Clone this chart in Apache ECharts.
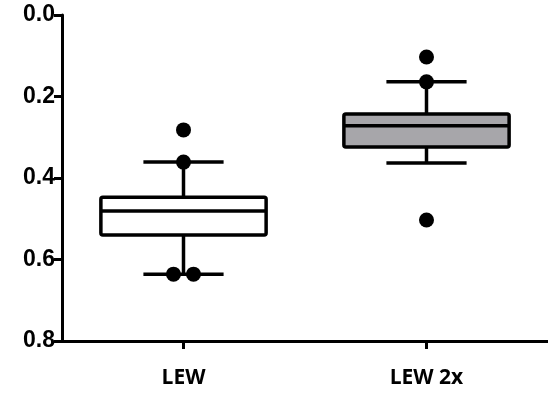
<!DOCTYPE html>
<html><head><meta charset="utf-8">
<script src="https://cdn.jsdelivr.net/npm/echarts@6/dist/echarts.min.js"></script>
<style>html,body{margin:0;padding:0;background:#fff}#c{width:548px;height:394px}</style>
</head><body><div id="c"></div>
<script>
const categories = ['LEW', 'LEW 2x'];
// [whiskerLow, Q1, median, Q3, whiskerHigh]
const boxLEW = [0.361, 0.447, 0.481, 0.540, 0.636];
const boxLEW2x = [0.164, 0.243, 0.272, 0.324, 0.363];
const pointsLEW = [0.282, 0.361, 0.636, 0.636];
const pointsLEW2x = [0.103, 0.164, 0.503];
const yTicks = [0.0, 0.2, 0.4, 0.6, 0.8];

const boxFills = ['#ffffff', '#a7a6aa'];
const boxData = [[0].concat(boxLEW), [1].concat(boxLEW2x)];
const jitterLEW = [0, 0, -10, 10];
const scatterData = [];
pointsLEW.forEach((v, i) => scatterData.push({ value: [0, v], symbolOffset: [jitterLEW[i], 0] }));
pointsLEW2x.forEach(v => scatterData.push({ value: [1, v] }));

const chart = echarts.init(document.getElementById('c'));
chart.setOption({
  animation: false,
  grid: { left: 62, right: 0, top: 15, bottom: 53 },
  xAxis: {
    type: 'category', data: categories, position: 'bottom',
    axisLine: { onZero: false, lineStyle: { color: '#000', width: 3 } },
    axisTick: { show: true, alignWithLabel: true, length: 8, lineStyle: { color: '#000', width: 3 } },
    axisLabel: { color: '#000', fontWeight: 'bold', fontSize: 21, fontFamily: 'Open Sans', margin: 27 },
    splitLine: { show: false }
  },
  yAxis: {
    type: 'value', inverse: true, min: 0, max: 0.8, interval: 0.2,
    axisLine: { show: true, lineStyle: { color: '#000', width: 3 } },
    axisTick: { show: true, length: 8, lineStyle: { color: '#000', width: 3 } },
    axisLabel: { color: '#000', fontWeight: 'bold', fontSize: 23, fontFamily: 'Arial, Liberation Sans, sans-serif', margin: 7,
      formatter: v => yTicks.some(t => Math.abs(t - v) < 1e-9) ? v.toFixed(1) : '' },
    splitLine: { show: false }
  },
  series: [
    {
      type: 'custom',
      data: boxData,
      renderItem: function (params, api) {
        const idx = api.value(0);
        const band = api.size([1, 0])[0];
        const bw = band * 0.68, cw = band * 0.33;
        const c = api.coord([idx, api.value(1)]);
        const cx = c[0];
        const yLo = c[1];
        const yQ1 = api.coord([idx, api.value(2)])[1];
        const yMed = api.coord([idx, api.value(3)])[1];
        const yQ3 = api.coord([idx, api.value(4)])[1];
        const yHi = api.coord([idx, api.value(5)])[1];
        const ls = { stroke: '#000', lineWidth: 3.5 };
        return {
          type: 'group',
          children: [
            { type: 'line', shape: { x1: cx, y1: yLo, x2: cx, y2: yQ1 }, style: ls },
            { type: 'line', shape: { x1: cx, y1: yQ3, x2: cx, y2: yHi }, style: ls },
            { type: 'line', shape: { x1: cx - cw / 2, y1: yLo, x2: cx + cw / 2, y2: yLo }, style: ls },
            { type: 'line', shape: { x1: cx - cw / 2, y1: yHi, x2: cx + cw / 2, y2: yHi }, style: ls },
            { type: 'rect', shape: { x: cx - bw / 2, y: Math.min(yQ1, yQ3), width: bw, height: Math.abs(yQ3 - yQ1), r: 2 },
              style: { fill: boxFills[idx], stroke: '#000', lineWidth: 3.5 } },
            { type: 'line', shape: { x1: cx - bw / 2, y1: yMed, x2: cx + bw / 2, y2: yMed }, style: ls }
          ]
        };
      },
      z: 2
    },
    {
      type: 'scatter',
      data: scatterData,
      symbol: 'circle', symbolSize: 15,
      itemStyle: { color: '#000', opacity: 1 },
      z: 3
    }
  ]
});
</script></body></html>
